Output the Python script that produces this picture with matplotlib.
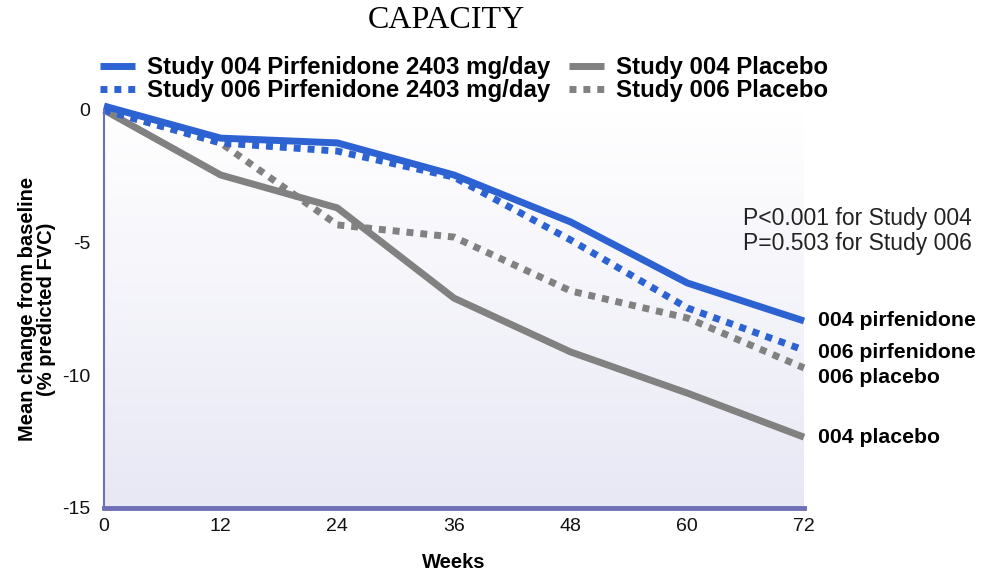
import numpy as np
import matplotlib
matplotlib.use("Agg")
import matplotlib.pyplot as plt

weeks = [0, 12, 24, 36, 48, 60, 72]
pirf_004 = [0.15, -1.06, -1.24, -2.45, -4.22, -6.52, -7.95]
pirf_006 = [0.0, -1.24, -1.55, -2.53, -4.90, -7.46, -9.05]
plac_004 = [0.0, -2.45, -3.69, -7.09, -9.12, -10.67, -12.33]
plac_006 = [0.0, -1.24, -4.33, -4.79, -6.82, -7.84, -9.72]

series_labels = ["Study 004 Pirfenidone 2403 mg/day",
                 "Study 006 Pirfenidone 2403 mg/day",
                 "Study 004 Placebo",
                 "Study 006 Placebo"]
end_labels = ["004 pirfenidone", "006 pirfenidone", "004 placebo", "006 placebo"]
yticks = [0, -5, -10, -15]
xticks = [0, 12, 24, 36, 48, 60, 72]

plt.rcParams['font.family'] = ['Liberation Sans', 'DejaVu Sans']

BLUE = "#2d62d2"
GRAY = "#818181"
SPINE = "#6f6fb5"

fig = plt.figure(figsize=(9.85, 5.75), dpi=100)
W, H = 985, 575
ax = fig.add_axes([104 / W, 1 - 508 / H, (804 - 104) / W, (508 - 110) / H])
ax.set_xlim(0, 72)
ax.set_ylim(-15, 0)

# gradient background
grad = np.linspace(0, 1, 256).reshape(-1, 1)
top = np.array([1.0, 1.0, 1.0])
bot = np.array([0xe8, 0xe8, 0xf5]) / 255.0
img = top + (bot - top) * grad[..., None] * np.ones((1, 1, 3))
ax.imshow(img, extent=[0, 72, -15, 0], aspect='auto', origin='upper', zorder=0)

lw = 5.0
dot = (0, (1, 1))
ax.plot(weeks, pirf_004, color=BLUE, lw=lw, solid_capstyle='butt', clip_on=False, zorder=5, label=series_labels[0])
ax.plot(weeks, pirf_006, color=BLUE, lw=lw, ls=dot, dash_capstyle='butt', clip_on=False, zorder=4, label=series_labels[1])
ax.plot(weeks, plac_004, color=GRAY, lw=lw, solid_capstyle='butt', clip_on=False, zorder=3, label=series_labels[2])
ax.plot(weeks, plac_006, color=GRAY, lw=lw, ls=dot, dash_capstyle='butt', clip_on=False, zorder=3, label=series_labels[3])

for s in ['top', 'right']:
    ax.spines[s].set_visible(False)
ax.spines['left'].set_color(SPINE)
ax.spines['left'].set_linewidth(1.5)
ax.spines['bottom'].set_color(SPINE)
ax.spines['bottom'].set_linewidth(3.5)
ax.spines['left'].set_zorder(6)
ax.spines['bottom'].set_zorder(6)

ax.set_xticks(xticks)
ax.set_xticklabels([str(t) for t in xticks], fontsize=14)
ax.set_yticks(yticks)
ax.set_yticklabels([str(t) for t in yticks], fontsize=14)
ax.tick_params(axis='both', length=0, colors='#111111')
ax.tick_params(axis='x', pad=7)
ax.tick_params(axis='y', pad=10)

fig.text(454 / W, 1 - 563 / H, "Weeks", fontsize=14.5, fontweight='bold',
         ha='center', va='center')
ax.set_ylabel("Mean change from baseline\n(% predicted FVC)", fontsize=14.5, fontweight='bold',
              labelpad=4, linespacing=1.05)

# end labels
end_vals = [pirf_004[-1], pirf_006[-1], plac_004[-1], plac_006[-1]]
end_offsets = [0, -0.1, -0.03, -0.38]
for lab, v, o in zip(end_labels, end_vals, end_offsets):
    ax.annotate(lab, xy=(72, v + o), xytext=(10, 0), textcoords='offset points',
                fontsize=15.3, fontweight='bold', va='center', ha='left', annotation_clip=False)

fig.text(972 / W, 1 - 231 / H, "P<0.001 for Study 004\nP=0.503 for Study 006",
         ha='right', va='center', fontsize=16.5, linespacing=1.1, color='#222222')

fig.text(446 / W, 1 - 20 / H, "CAPACITY", ha='center', va='center', fontsize=23,
         family=['Liberation Serif', 'DejaVu Serif'])

handles, labels = ax.get_legend_handles_labels()
leg = fig.legend(handles, labels, ncol=2, loc='upper left',
                 bbox_to_anchor=(100 / W, 1 - 56 / H), frameon=False,
                 prop={'weight': 'bold', 'size': 17.3}, handlelength=1.45,
                 handletextpad=0.5, columnspacing=0.8, labelspacing=0.0,
                 borderaxespad=0, borderpad=0)

fig.savefig("out.png", dpi=100)
